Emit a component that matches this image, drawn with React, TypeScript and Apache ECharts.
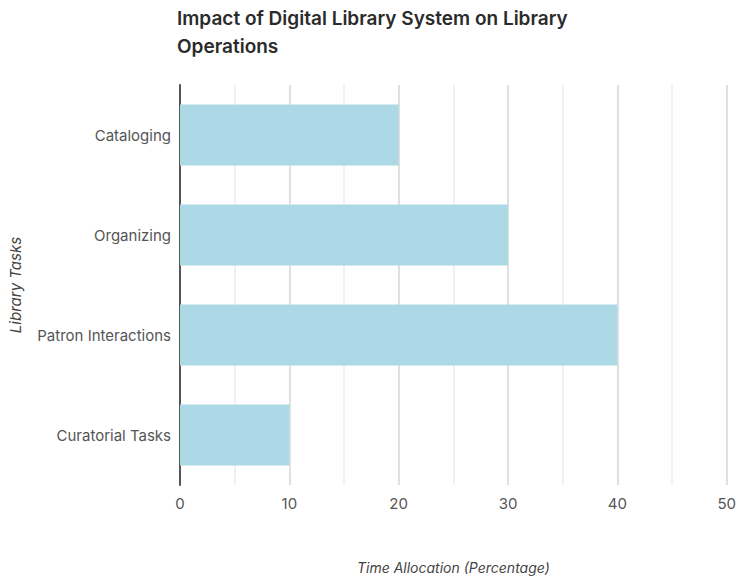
import React, { useEffect, useRef } from "react";
import * as echarts from "echarts";

const categories = ["Cataloging", "Organizing", "Patron Interactions", "Curatorial Tasks"];
const timeAllocation = [20, 30, 40, 10];
const xTicks = [0, 10, 20, 30, 40, 50];

const FONT = "Inter, 'Noto Sans', sans-serif";

export default function App() {
  const ref = useRef<HTMLDivElement>(null);

  useEffect(() => {
    if (!ref.current) return;
    const chart = echarts.init(ref.current, null, { renderer: "svg" });
    chart.setOption({
      animation: false,
      backgroundColor: "#ffffff",
      title: {
        text: "Impact of Digital Library System on Library\nOperations",
        left: 177,
        top: 4,
        padding: 0,
        textStyle: {
          fontFamily: FONT,
          fontSize: 19,
          fontWeight: 600,
          color: "#2b2b2b",
          lineHeight: 28,
        },
      },
      grid: { left: 177, right: 9, top: 85, bottom: 87, containLabel: false },
      xAxis: {
        type: "value",
        min: xTicks[0],
        max: xTicks[xTicks.length - 1],
        interval: 10,
        name: "Time Allocation (Percentage)",
        nameLocation: "middle",
        nameGap: 75,
        nameTextStyle: { fontFamily: FONT, fontSize: 14, fontStyle: "italic", color: "#444" },
        axisLine: { show: false },
        axisTick: { show: false },
        axisLabel: { fontFamily: FONT, fontSize: 15, color: "#555", margin: 11 },
        splitLine: { show: true, lineStyle: { color: "#d6d6d6", width: 1.5 } },
        minorTick: { show: false, splitNumber: 2 },
        minorSplitLine: { show: true, lineStyle: { color: "#ededed", width: 1.5 } },
      },
      yAxis: {
        type: "category",
        data: categories,
        inverse: true,
        name: "Library Tasks",
        nameLocation: "middle",
        nameGap: 157,
        nameRotate: 90,
        nameTextStyle: { fontFamily: FONT, fontSize: 15, fontStyle: "italic", color: "#444" },
        axisLine: { show: true, lineStyle: { color: "#555", width: 2 } },
        axisTick: { show: false },
        axisLabel: { fontFamily: FONT, fontSize: 15, color: "#555", margin: 9 },
        splitLine: { show: false },
      },
      series: [
        {
          type: "bar",
          data: timeAllocation,
          barCategoryGap: "39%",
          itemStyle: { color: "#add8e6" },
        },
      ],
    });
    return () => chart.dispose();
  }, []);

  return (
    <div
      ref={ref}
      style={{ position: "fixed", left: 0, top: 0, width: 739, height: 579 }}
    />
  );
}
